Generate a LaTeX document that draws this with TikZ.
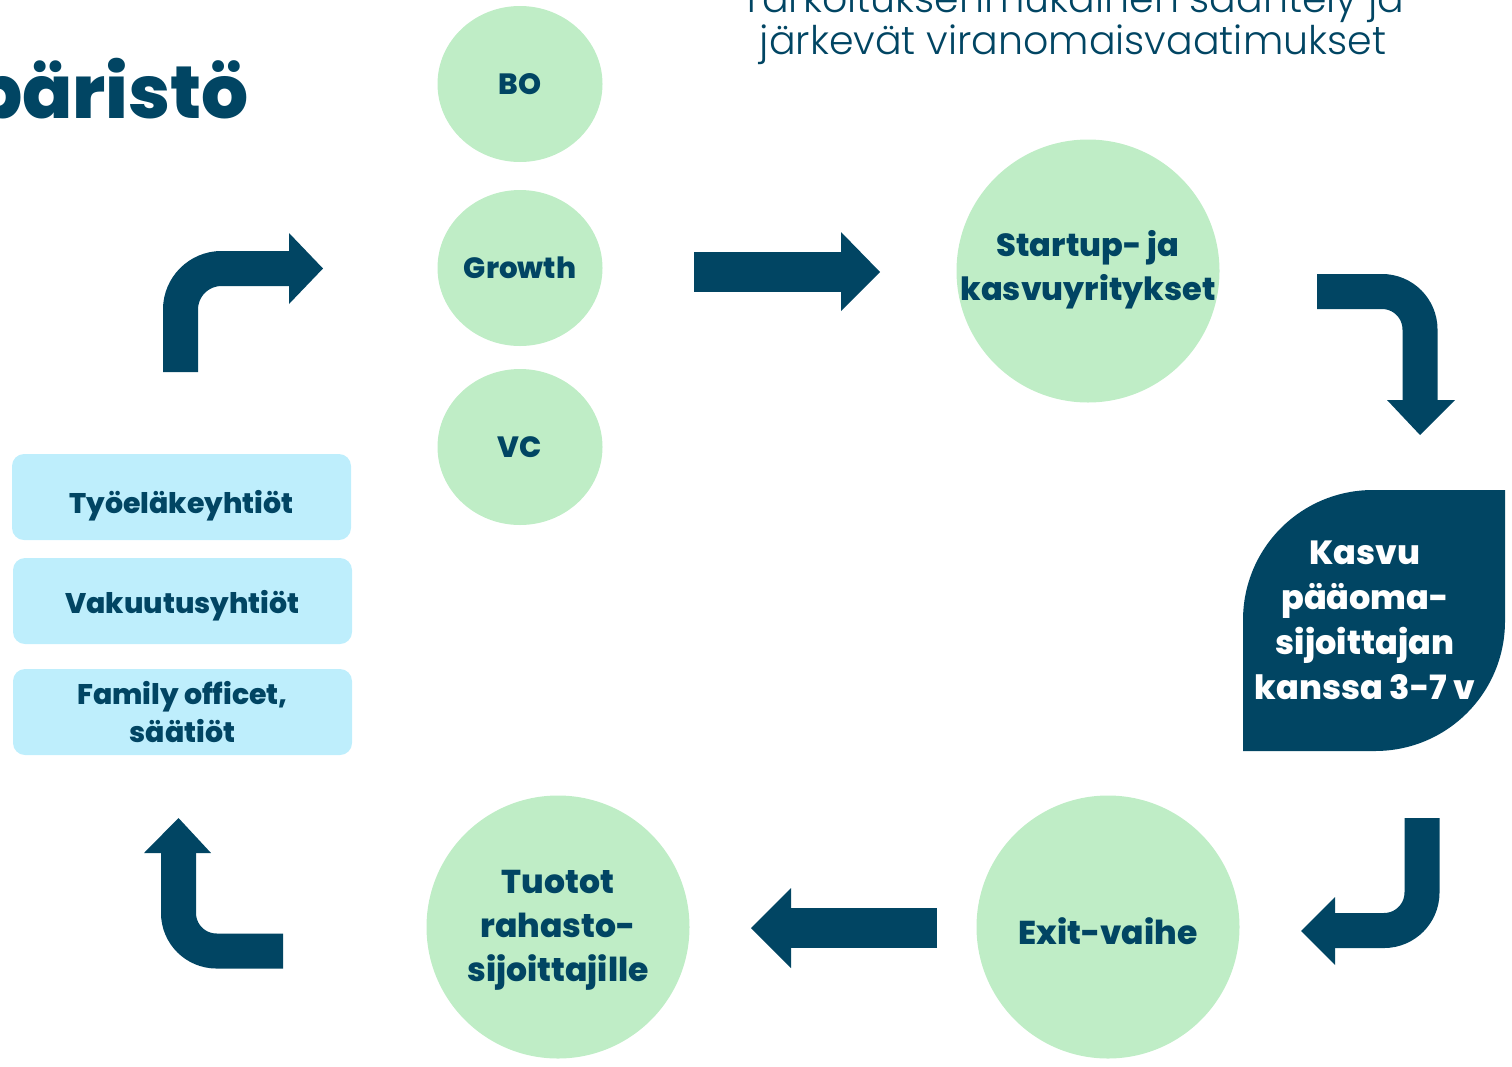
\documentclass[tikz,border=0pt]{standalone}
\usepackage{fontspec}
\setmainfont{Poppins}
\IfFontExistsTF{Poppins Light}{\newfontfamily\lightfont{Poppins Light}}{\newfontfamily\lightfont{Poppins}}
\IfFontExistsTF{Poppins ExtraBold}{\newfontfamily\boldfont{Poppins ExtraBold}}{\newfontfamily\boldfont{Poppins Bold}}
\definecolor{navy}{RGB}{1,69,99}
\definecolor{mint}{RGB}{191,237,198}
\definecolor{sky}{RGB}{190,238,252}
\usetikzlibrary{shapes.geometric}
\tikzset{
  ell/.style={ellipse, fill=mint, minimum width=165pt, minimum height=156pt, inner sep=0pt, text=navy, font=\boldfont\fontsize{29.3}{30}\selectfont},
  bigc/.style={circle, fill=mint, minimum size=263pt, inner sep=0pt},
  ctext/.style={text=navy, align=center, inner sep=0pt, font=\boldfont\fontsize{33}{44}\selectfont},
  boxn/.style={rounded corners=12pt, fill=sky, minimum width=339pt, minimum height=86pt, inner sep=0pt},
  btext/.style={text=navy, align=center, inner sep=0pt, font=\boldfont\fontsize{28.4}{38}\selectfont},
  band/.style={draw=navy, line width=35pt},
  bar/.style={draw=navy, line width=40pt},
}
\begin{document}
\begin{tikzpicture}[x=1pt,y=-1pt]
\useasboundingbox (0,0) rectangle (1512,1066);
% title
\node[anchor=base east, inner sep=0pt, text=navy, font=\boldfont\fontsize{74}{80}\selectfont] (title) at (249,118) {päristö};
% top text
\node[anchor=base, inner sep=0pt, text=navy, align=center, font=\lightfont\fontsize{39.5}{42}\selectfont] (top) at (1073,54) {Tarkoituksenmukainen sääntely ja\\järkevät viranomaisvaatimukset};
% ellipses
\node[ell] (bo) at (520,84) {BO};
\node[ell] (gr) at (520,268) {Growth};
\node[ell] (vc) at (520,447) {VC};
% big circles
\node[bigc] (st) at (1088,271) {};
\node[ctext, font=\boldfont\fontsize{32}{44}\selectfont] (stt) at (1088,270) {Startup- ja\\kasvuyritykset};
\node[bigc] (tu) at (558,927) {};
\node[ctext] (tut) at (558,930) {Tuotot\\rahasto-\\sijoittajille};
\node[bigc] (ex) at (1108,927) {};
\node[ctext] (ext) at (1108,931) {Exit-vaihe};
% boxes
\node[boxn] (b1) at (181.5,497) {};
\node[btext, anchor=base] (b1t) at (181.5,513) {Työeläkeyhtiöt};
\node[boxn] (b2) at (182.5,601) {};
\node[btext, anchor=base] (b2t) at (182.5,613) {Vakuutusyhtiöt};
\node[boxn] (b3) at (182.5,712) {};
\node[btext] (b3t) at (182.5,712) {Family officet,\\säätiöt};
% leaf
\fill[navy] (1243,751) -- (1243,620) .. controls (1243,548) and (1301,490) .. (1373,490) -- (1505,490) -- (1505,621) .. controls (1505,693) and (1447,751) .. (1375,751) -- cycle;
\node[text=white, align=center, inner sep=0pt, font=\boldfont\fontsize{33.5}{45}\selectfont] (ka) at (1365,620) {Kasvu\\pääoma-\\sijoittajan\\kanssa 3-7 v};
% straight arrows
\coordinate (a1s) at (694,272);
\coordinate (a1e) at (842,272);
\draw[bar] (a1s) -- (a1e);
\fill[navy] (841,232) -- (880,272) -- (841,311) -- cycle;
\coordinate (a2s) at (937,928);
\coordinate (a2e) at (790,928);
\draw[bar] (a2s) -- (a2e);
\fill[navy] (791,888) -- (751,928) -- (791,968) -- cycle;
% bent arrows
\draw[band, rounded corners=41pt] (180.5,372) -- (180.5,268.5) -- (290,268.5);
\fill[navy] (289,233) -- (323,268.5) -- (289,304) -- cycle;
\draw[band, rounded corners=38pt] (1317,291.5) -- (1420,291.5) -- (1420,401);
\fill[navy] (1387,400) -- (1420,435) -- (1455,400) -- cycle;
\draw[band, rounded corners=38pt] (1422,818) -- (1422,930.5) -- (1334,930.5);
\fill[navy] (1335,897) -- (1301,931) -- (1335,965) -- cycle;
\draw[band, rounded corners=38pt] (283,951) -- (178.5,951) -- (178.5,852);
\fill[navy] (144,853) -- (178.5,818) -- (211,853) -- cycle;
\end{tikzpicture}
\end{document}
